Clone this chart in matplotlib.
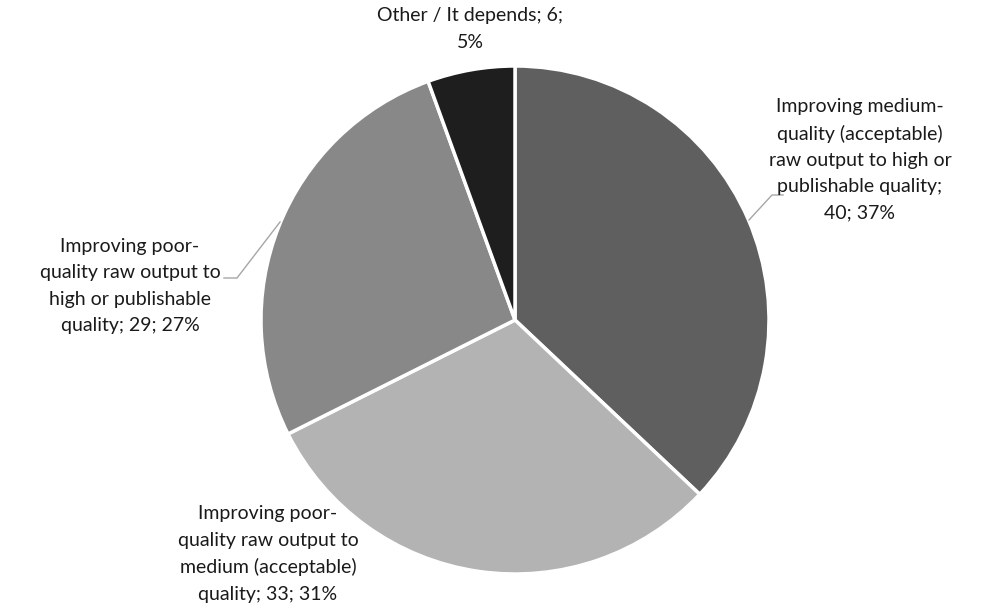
import matplotlib.pyplot as plt

# slice data, clockwise from 12 o'clock
counts = [40, 33, 29, 6]
percents = ["37%", "31%", "27%", "5%"]
colors = ["#5f5f5f", "#b3b3b3", "#888888", "#1e1e1e"]

labels = [
    "Improving medium-\nquality (acceptable)\nraw output to high or\npublishable quality;\n%d; %s" % (counts[0], percents[0]),
    "Improving poor-\nquality raw output to\nmedium (acceptable)\nquality; %d; %s" % (counts[1], percents[1]),
    "Improving poor-\nquality raw output to\nhigh or publishable\nquality; %d; %s" % (counts[2], percents[2]),
    "Other / It depends; %d;\n%s" % (counts[3], percents[3]),
]

W, H = 992, 612
fig = plt.figure(figsize=(W / 100, H / 100), dpi=100)
ax = fig.add_axes([0, 0, 1, 1])

ax.pie(counts, colors=colors, startangle=90, counterclock=False,
       center=(515, H - 320), radius=254, frame=True,
       wedgeprops=dict(edgecolor="white", linewidth=2.5))
ax.set_xlim(0, W)
ax.set_ylim(0, H)
ax.set_aspect("equal")
ax.axis("off")

font = dict(family="Lato", fontsize=14, color="#1a1a1a",
            ha="center", va="center", linespacing=1.65)
ax.text(860, H - 160, labels[0], **font)
ax.text(268, H - 554, labels[1], **font)
ax.text(130, H - 286, labels[2], **font)
ax.text(470, H - 29, labels[3], **font)

# leader lines
lc = "#a6a6a6"
ax.plot([749, 772, 783], [H - 220, H - 195, H - 195], color=lc, lw=1)
ax.plot([224, 237, 280], [H - 278, H - 278, H - 222], color=lc, lw=1)

fig.savefig("out.png", dpi=100)
